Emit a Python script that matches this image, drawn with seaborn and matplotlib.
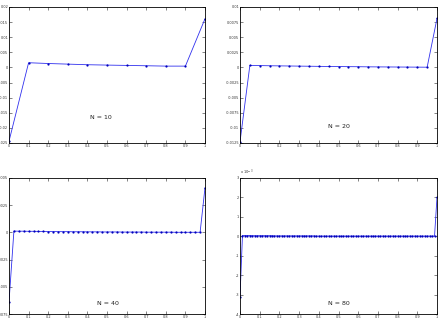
import numpy as np
import pandas as pd
import matplotlib
matplotlib.use("Agg")
import matplotlib.pyplot as plt
import seaborn as sns

sns.set_style("white")
plt.rcParams['font.family'] = ['DejaVu Sans']

# ---- data ----
y10 = [-0.0244, 0.00156, 0.0013, 0.0011, 0.0009, 0.00078, 0.00067, 0.00056,
       0.00044, 0.00044, 0.0161]
y20 = [-0.0123, 0.00033, 0.00031, 0.00028, 0.00026, 0.00024, 0.00022, 0.0002,
       0.00018, 0.00016, 0.00015, 0.00013, 0.00012, 0.0001, 0.00009, 0.00008,
       0.00007, 0.00006, 0.00005, 0.00004, 0.0081]
y40 = [-0.0064,
       0.00012, 0.00011, 0.00011, 0.0001, 0.0001, 0.00009, 0.00009, 0.00008,
       0.00008, 0.00007, 0.00007, 0.00007, 0.00006, 0.00006, 0.00006, 0.00005,
       0.00005, 0.00005, 0.00004, 0.00004, 0.00004, 0.00004, 0.00003, 0.00003,
       0.00003, 0.00003, 0.00003, 0.00002, 0.00002, 0.00002, 0.00002, 0.00002,
       0.00002, 0.00001, 0.00001, 0.00001, 0.00001, 0.00001, 0.00001,
       0.0041]
y80 = [-0.0031,
       0.00004, 0.00004, 0.00004, 0.00004, 0.00003, 0.00003, 0.00003, 0.00003,
       0.00003, 0.00003, 0.00003, 0.00003, 0.00003, 0.00002, 0.00002, 0.00002,
       0.00002, 0.00002, 0.00002, 0.00002, 0.00002, 0.00002, 0.00002, 0.00002,
       0.00002, 0.00002, 0.00002, 0.00002, 0.00002, 0.00002, 0.00001, 0.00001,
       0.00001, 0.00001, 0.00001, 0.00001, 0.00001, 0.00001, 0.00001, 0.00001,
       0.00001, 0.00001, 0.00001, 0.00001, 0.00001, 0.00001, 0.00001, 0.00001,
       0.00001, 0.00001, 0.00001, 0.00001, 0.00001, 0.00001, 0.00001, 0.00001,
       0.00001, 0.00001, 0.00001, 0.00001, 0.00001, 0.00001, 0.00001, 0.00001,
       0.00001, 0.00001, 0.00001, 0.00001, 0.00001, 0.00001, 0.00001, 0.00001,
       0.00001, 0.00001, 0.00001, 0.00001, 0.00001, 0.00001, 0.00001,
       0.0020]
labels = ["N = 10", "N = 20", "N = 40", "N = 80"]
ylims = [(-0.025, 0.02), (-0.0125, 0.01), (-0.0075, 0.005), (-0.004, 0.003)]
ysteps = [0.005, 0.0025, 0.0025, 0.001]
xticks = [0, 0.1, 0.2, 0.3, 0.4, 0.5, 0.6, 0.7, 0.8, 0.9, 1]

W, H = 441, 329
fig = plt.figure(figsize=(W / 100, H / 100), dpi=100)
fig.patch.set_facecolor("white")

# axes boxes in pixels: left, top, right, bottom
boxes = [(9, 7, 205, 143), (240, 7, 437, 143),
         (9, 178, 205, 314), (240, 178, 437, 314)]
text_pos = [(0.47, 0.19), (0.50, 0.125), (0.505, 0.08), (0.50, 0.08)]

series = [y10, y20, y40, y80]
for i, ys in enumerate(series):
    l, t, r, b = boxes[i]
    ax = fig.add_axes([l / W, 1 - b / H, (r - l) / W, (b - t) / H])
    n = len(ys) - 1
    df = pd.DataFrame({"x": np.arange(n + 1) / n, "y": ys})
    sns.lineplot(data=df, x="x", y="y", ax=ax, color="#3030ee",
                 linewidth=0.6, marker="o", markersize=1.6,
                 markeredgewidth=0, markerfacecolor="#0000bb")
    lo, hi = ylims[i]
    ax.set_xlim(0, 1)
    ax.set_ylim(lo, hi)
    step = ysteps[i]
    nt = int(round((hi - lo) / step))
    yt = [lo + k * step for k in range(nt + 1)]
    ax.set_yticks(yt)
    if i == 3:
        ax.set_yticklabels([f"{v * 1000:g}" for v in yt])
        ax.text(0.0, 1.01, r"x 10$^{-3}$", transform=ax.transAxes,
                fontsize=2.6, color="#333333", ha="left", va="bottom")
    else:
        ax.set_yticklabels([f"{round(v, 6):g}" for v in yt])
    ax.set_xticks(xticks)
    ax.set_xticklabels([f"{v:g}" for v in xticks])
    ax.set_xlabel("")
    ax.set_ylabel("")
    ax.tick_params(direction="in", length=2, width=0.4, labelsize=2.5,
                   labelcolor="#333333", pad=0.5,
                   top=True, right=True, bottom=True, left=True)
    for s in ax.spines.values():
        s.set_color("black")
        s.set_linewidth(0.6)
        s.set_visible(True)
    ax.text(text_pos[i][0], text_pos[i][1], labels[i], transform=ax.transAxes,
            fontsize=4.5, ha="center", va="center", color="#222222")

fig.savefig("out.png", dpi=100, facecolor="white")
